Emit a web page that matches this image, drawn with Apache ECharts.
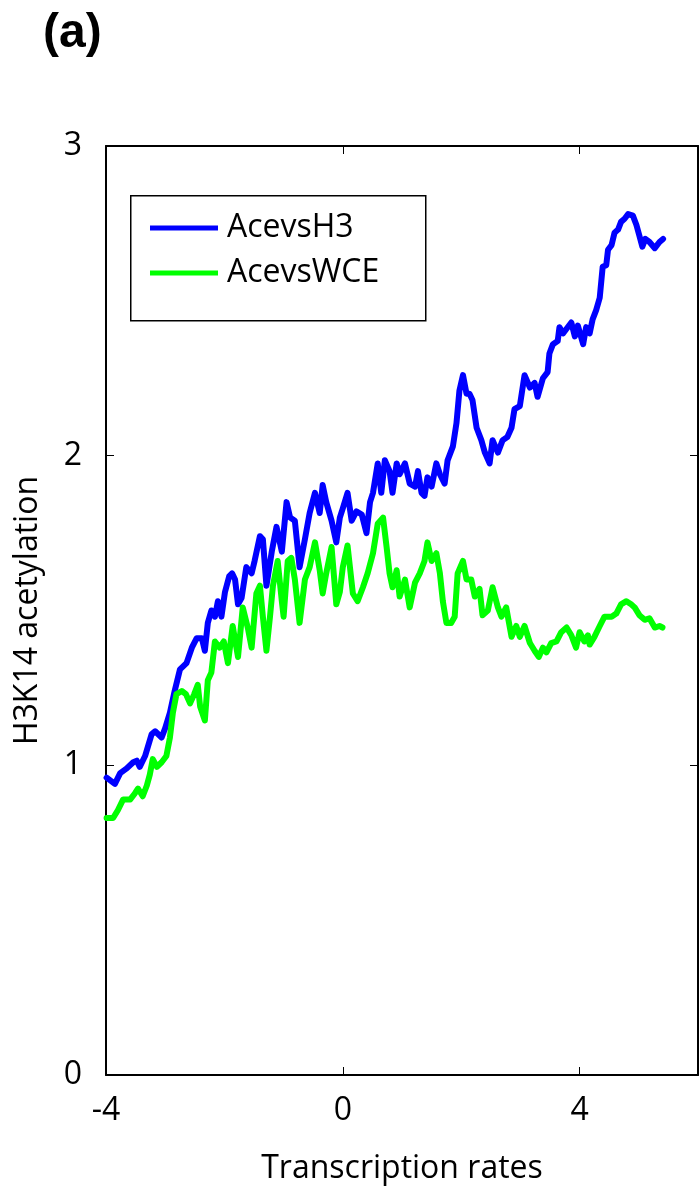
<!DOCTYPE html>
<html>
<head>
<meta charset="utf-8">
<script src="https://cdn.jsdelivr.net/npm/echarts@6/dist/echarts.min.js"></script>
<style>
html, body { margin: 0; padding: 0; background: #fff; }
#chart { width: 699px; height: 1194px; }
</style>
</head>
<body>
<div id="chart"></div>
<script>
// x positions (transcription rate) and y values
var h3X = [-3.99,-3.85,-3.76,-3.65,-3.54,-3.48,-3.43,-3.34,-3.23,-3.17,
    -3.06,-3.00,-2.92,-2.84,-2.75,-2.64,-2.55,-2.47,-2.38,-2.33,
    -2.28,-2.22,-2.16,-2.11,-2.05,-1.99,-1.92,-1.87,-1.82,-1.77,
    -1.71,-1.63,-1.54,-1.49,-1.40,-1.35,-1.29,-1.20,-1.12,-1.03,
    -0.95,-0.89,-0.81,-0.73,-0.64,-0.56,-0.47,-0.39,-0.34,-0.28,
    -0.19,-0.11,-0.05,0.00,0.08,0.15,0.23,0.32,0.40,0.46,
    0.51,0.59,0.65,0.71,0.79,0.84,0.91,0.96,1.05,1.13,
    1.22,1.27,1.33,1.38,1.43,1.50,1.58,1.64,1.72,1.77,
    1.86,1.92,1.97,2.03,2.09,2.14,2.19,2.26,2.34,2.40,
    2.48,2.53,2.62,2.70,2.78,2.85,2.90,2.99,3.07,3.16,
    3.24,3.29,3.38,3.46,3.49,3.55,3.63,3.66,3.72,3.78,
    3.86,3.92,3.97,4.06,4.11,4.17,4.22,4.28,4.34,4.39,
    4.45,4.48,4.54,4.59,4.65,4.70,4.76,4.82,4.90,4.96,
    5.01,5.06,5.11,5.18,5.27,5.35,5.41];
var h3Y = [0.96,0.94,0.975,0.99,1.01,1.015,0.995,1.03,1.10,1.11,
    1.09,1.12,1.17,1.24,1.31,1.33,1.38,1.41,1.41,1.37,
    1.46,1.50,1.48,1.53,1.48,1.56,1.61,1.62,1.60,1.52,
    1.54,1.64,1.62,1.66,1.74,1.73,1.58,1.69,1.77,1.69,
    1.85,1.80,1.79,1.64,1.73,1.815,1.88,1.815,1.905,1.85,
    1.79,1.72,1.80,1.83,1.88,1.79,1.82,1.81,1.75,1.85,
    1.88,1.975,1.88,1.985,1.95,1.88,1.975,1.94,1.975,1.91,
    1.90,1.95,1.88,1.87,1.93,1.90,1.975,1.94,1.91,1.985,
    2.03,2.105,2.21,2.26,2.20,2.20,2.18,2.09,2.05,2.01,
    1.975,2.05,2.01,2.05,2.06,2.09,2.15,2.16,2.26,2.22,
    2.235,2.19,2.25,2.27,2.33,2.36,2.37,2.415,2.395,2.41,
    2.43,2.385,2.42,2.36,2.415,2.395,2.44,2.47,2.51,2.61,
    2.615,2.665,2.68,2.72,2.73,2.755,2.765,2.78,2.775,2.745,
    2.71,2.675,2.70,2.69,2.67,2.69,2.70];

var wceX = [-3.99,-3.88,-3.80,-3.71,-3.59,-3.51,-3.46,-3.38,-3.31,-3.26,
    -3.21,-3.14,-3.06,-2.98,-2.92,-2.87,-2.81,-2.72,-2.65,-2.58,
    -2.51,-2.45,-2.41,-2.33,-2.28,-2.22,-2.16,-2.08,-2.01,-1.94,
    -1.86,-1.77,-1.69,-1.60,-1.54,-1.46,-1.40,-1.35,-1.29,-1.23,
    -1.18,-1.10,-1.03,-1.00,-0.93,-0.87,-0.81,-0.73,-0.64,-0.56,
    -0.47,-0.39,-0.34,-0.28,-0.19,-0.11,-0.05,0.00,0.08,0.17,
    0.25,0.34,0.42,0.51,0.59,0.68,0.74,0.79,0.84,0.91,
    0.96,1.05,1.13,1.22,1.30,1.38,1.43,1.50,1.58,1.64,
    1.69,1.75,1.83,1.89,1.94,2.03,2.09,2.17,2.23,2.31,
    2.36,2.45,2.53,2.62,2.68,2.76,2.85,2.93,2.99,3.07,
    3.16,3.24,3.31,3.38,3.44,3.52,3.61,3.69,3.78,3.86,
    3.94,4.00,4.08,4.14,4.17,4.25,4.34,4.42,4.54,4.62,
    4.70,4.79,4.87,4.93,5.01,5.10,5.18,5.27,5.35,5.40];
var wceY = [0.83,0.83,0.855,0.89,0.89,0.91,0.925,0.90,0.935,0.97,
    1.02,0.995,1.01,1.03,1.09,1.17,1.23,1.24,1.23,1.20,
    1.23,1.26,1.19,1.145,1.275,1.30,1.40,1.38,1.40,1.33,
    1.45,1.35,1.51,1.44,1.38,1.555,1.58,1.48,1.37,1.48,
    1.58,1.66,1.53,1.48,1.66,1.67,1.60,1.46,1.60,1.64,
    1.72,1.63,1.555,1.62,1.705,1.52,1.56,1.64,1.71,1.555,
    1.53,1.575,1.62,1.685,1.78,1.80,1.705,1.62,1.575,1.63,
    1.545,1.60,1.51,1.59,1.62,1.66,1.72,1.66,1.685,1.62,
    1.53,1.46,1.46,1.48,1.62,1.66,1.60,1.60,1.545,1.57,
    1.485,1.50,1.575,1.51,1.48,1.51,1.415,1.45,1.415,1.45,
    1.395,1.37,1.35,1.38,1.365,1.395,1.40,1.43,1.445,1.42,
    1.38,1.43,1.40,1.42,1.39,1.415,1.45,1.48,1.48,1.49,
    1.52,1.53,1.52,1.51,1.485,1.47,1.475,1.445,1.45,1.445];

var seriesNames = ['AcevsH3', 'AcevsWCE'];
var seriesColors = ['#0000ff', '#00ff00'];

function pairs(xs, ys) {
    var out = [];
    for (var i = 0; i < xs.length; i++) {
        out.push([xs[i], ys[i]]);
    }
    return out;
}

var FONT = "'Open Sans', 'DejaVu Sans', sans-serif";
var myChart = echarts.init(document.getElementById('chart'), null, { renderer: 'canvas' });

var frameAxis = {
    axisLine: { show: true, onZero: false, lineStyle: { color: '#000', width: 2 } },
    axisTick: { show: true, inside: true, length: 8, lineStyle: { color: '#000', width: 1 } },
    splitLine: { show: false }
};

option = {
    animation: false,
    backgroundColor: '#fff',
    title: {
        text: '(a)',
        left: 38,
        top: 5,
        textStyle: { fontFamily: "'Liberation Sans', Arial, sans-serif", fontWeight: 'bold', fontSize: 48, color: '#000' }
    },
    grid: { left: 106, top: 146, right: 1, bottom: 119, containLabel: false },
    legend: {
        orient: 'vertical',
        left: 145,
        top: 207,
        z: 20,
        icon: 'rect',
        itemWidth: 68,
        itemHeight: 5,
        itemGap: 13,
        data: seriesNames,
        textStyle: { fontFamily: FONT, fontSize: 32, color: '#000', padding: [0, 0, 0, 4] }
    },
    graphic: [{
        type: 'rect',
        left: 130,
        top: 195,
        z: 1,
        shape: { width: 295, height: 125 },
        style: { fill: '#fff', stroke: '#000', lineWidth: 1.5 }
    }],
    xAxis: [
        Object.assign({
            type: 'value', min: -4, max: 6, interval: 4, position: 'bottom',
            name: 'Transcription rates', nameLocation: 'middle', nameGap: 78,
            nameTextStyle: { fontFamily: FONT, fontSize: 32, color: '#000' },
            axisLabel: { margin: 20, fontFamily: FONT, fontSize: 32, color: '#000', showMaxLabel: false }
        }, frameAxis),
        Object.assign({
            type: 'value', min: -4, max: 6, interval: 4, position: 'top',
            axisLabel: { show: false }
        }, frameAxis)
    ],
    yAxis: [
        Object.assign({
            type: 'value', min: 0, max: 3, interval: 1, position: 'left',
            name: 'H3K14 acetylation', nameLocation: 'middle', nameGap: 62,
            nameTextStyle: { fontFamily: FONT, fontSize: 32, color: '#000' },
            axisLabel: { margin: 24, fontFamily: FONT, fontSize: 32, color: '#000' }
        }, frameAxis),
        Object.assign({
            type: 'value', min: 0, max: 3, interval: 1, position: 'right',
            axisLabel: { show: false }
        }, frameAxis)
    ],
    series: [
        {
            name: seriesNames[0],
            type: 'line',
            data: pairs(h3X, h3Y),
            symbol: 'none',
            color: seriesColors[0],
            lineStyle: { width: 6, color: seriesColors[0], cap: 'round', join: 'round' },
            z: 2
        },
        {
            name: seriesNames[1],
            type: 'line',
            data: pairs(wceX, wceY),
            symbol: 'none',
            color: seriesColors[1],
            lineStyle: { width: 6, color: seriesColors[1], cap: 'round', join: 'round' },
            z: 3
        }
    ]
};
myChart.setOption(option);
</script>
</body>
</html>
